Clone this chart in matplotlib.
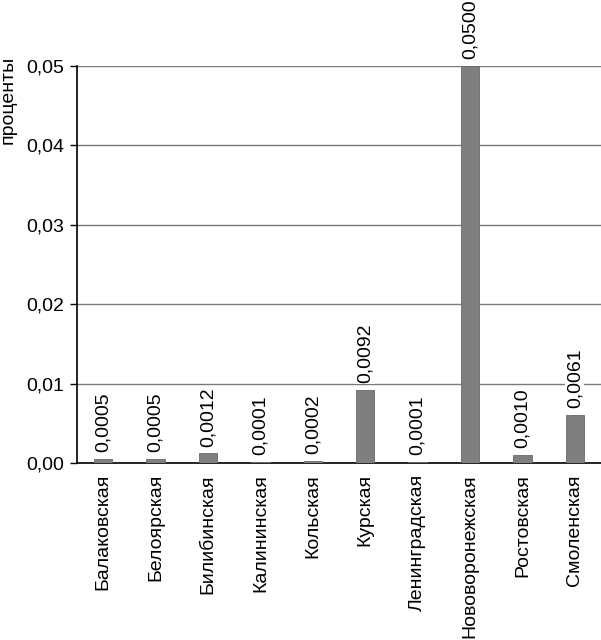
import matplotlib
matplotlib.use("Agg")
import matplotlib.pyplot as plt
import numpy as np

plt.rcParams['font.family'] = ['Liberation Sans', 'DejaVu Sans']

stations = ["Балаковская", "Белоярская", "Билибинская", "Калининская", "Кольская",
            "Курская", "Ленинградская", "Нововоронежская", "Ростовская", "Смоленская"]
values = [0.0005, 0.0005, 0.0012, 0.0001, 0.0002, 0.0092, 0.0001, 0.0500, 0.0010, 0.0061]
value_labels = ["0,0005", "0,0005", "0,0012", "0,0001", "0,0002",
                "0,0092", "0,0001", "0,0500", "0,0010", "0,0061"]
yticks = [0.0, 0.01, 0.02, 0.03, 0.04, 0.05]
ytick_labels = ["0,00", "0,01", "0,02", "0,03", "0,04", "0,05"]

fsize = 14

fig = plt.figure(figsize=(6.01, 6.4), dpi=100)
ax = fig.add_axes([77 / 601, 1 - 463 / 640, 1 - 77 / 601, (463 - 66) / 640])

x = np.arange(len(stations))
ax.bar(x, values, width=0.35, color='#7f7f7f', edgecolor='#6a6a6a', linewidth=0.6, zorder=3)

for xi, v, lab in zip(x, values, value_labels):
    ax.annotate(lab, (xi, v), xytext=(0, 5), textcoords='offset points',
                rotation=90, ha='center', va='bottom', fontsize=fsize, zorder=4,
                bbox=dict(boxstyle='square,pad=0.05', fc='white', ec='none'),
                annotation_clip=False)

ax.set_xlim(-0.5, len(stations) - 0.5)
ax.set_ylim(0, 0.05)
ax.set_yticks(yticks)
ax.set_yticklabels(ytick_labels, fontsize=fsize)
ax.set_xticks(x)
ax.set_xticklabels(stations, rotation=90, fontsize=fsize, va='top', ha='center')
ax.tick_params(axis='x', length=0, pad=8)
ax.tick_params(axis='y', length=5, width=1, direction='out', pad=4)

ax.yaxis.grid(True, color='#7a7a7a', linewidth=1, zorder=0)
ax.set_axisbelow(True)
for s in ['top', 'right']:
    ax.spines[s].set_visible(False)
ax.spines['left'].set_linewidth(1.2)
ax.spines['bottom'].set_linewidth(1.2)

fig.text(0.0, 1 - 56 / 640, "проценты", rotation=90, ha='left', va='top', fontsize=fsize)

fig.savefig("out.png", dpi=100)
